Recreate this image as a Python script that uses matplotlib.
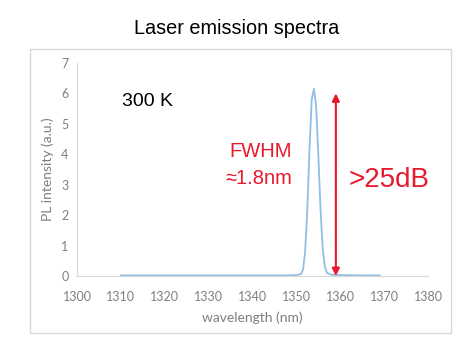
import matplotlib.pyplot as plt
from matplotlib.patches import Rectangle

# spectrum
wavelength = [1310, 1320, 1330, 1340, 1348, 1350, 1351, 1351.5, 1352, 1352.5, 1353, 1353.5,
              1354, 1354.5, 1355, 1355.5, 1356, 1356.5, 1357, 1358, 1360, 1365, 1369]
intensity = [0.02, 0.02, 0.02, 0.02, 0.02, 0.03, 0.06, 0.2, 0.8, 2.2, 4.2, 5.8,
             6.15, 5.6, 4.0, 2.2, 0.9, 0.3, 0.1, 0.04, 0.03, 0.02, 0.02]
x_ticks = [1300, 1310, 1320, 1330, 1340, 1350, 1360, 1370, 1380]
y_ticks = [0, 1, 2, 3, 4, 5, 6, 7]
arrow_x = 1359
arrow_top = 6.0

RED = '#e8192c'
GRAY = '#7f7f7f'
LIGHT = '#d9d9d9'

fig = plt.figure(figsize=(4.6, 3.46), dpi=100)
fig.patches.append(Rectangle((30 / 460, 1 - 333 / 346), 421 / 460, 284 / 346,
                             transform=fig.transFigure, fill=False,
                             edgecolor=LIGHT, linewidth=1.0))
fig.text(237 / 460, 1 - 28 / 346, 'Laser emission spectra', ha='center', va='center',
         fontsize=14.3, family='Liberation Sans')

ax = fig.add_axes([77 / 460, 1 - 276 / 346, 351 / 460, 213 / 346])
ax.plot(wavelength, intensity, color='#93bde2', linewidth=1.3)
ax.set_xlim(1300, 1380)
ax.set_ylim(0, 7)
ax.set_xticks(x_ticks)
ax.set_yticks(y_ticks)
for s in ['top', 'right']:
    ax.spines[s].set_visible(False)
for s in ['left', 'bottom']:
    ax.spines[s].set_color(LIGHT)
    ax.spines[s].set_linewidth(0.8)
ax.tick_params(colors=GRAY, labelsize=9, length=0)
ax.tick_params(axis='x', pad=11)
ax.tick_params(axis='y', pad=6)
for lab in ax.get_xticklabels() + ax.get_yticklabels():
    lab.set_family('Lato')
ax.set_xlabel('wavelength (nm)', color=GRAY, fontsize=10, family='Lato', labelpad=6)
ax.set_ylabel('PL intensity (a.u.)', color=GRAY, fontsize=10, family='Lato', labelpad=5)

ax.annotate('', xy=(arrow_x, 0), xytext=(arrow_x, arrow_top),
            arrowprops=dict(arrowstyle='<|-|>', color=RED, lw=1.5,
                            mutation_scale=11, shrinkA=0, shrinkB=0))
ax.text(1310.3, 5.72, '300 K', fontsize=14, family='Liberation Sans', va='center')
ax.text(1341.8, 4.08, 'FWHM', color=RED, fontsize=14.5, family='Liberation Sans',
        ha='center', va='center')
ax.text(1341.5, 3.22, '\u22481.8nm', color=RED, fontsize=14.5, family='Liberation Sans',
        ha='center', va='center')
ax.text(1362.0, 3.16, '>25dB', color=RED, fontsize=20, family='Liberation Sans',
        ha='left', va='center')

fig.savefig('out.png', dpi=100)
